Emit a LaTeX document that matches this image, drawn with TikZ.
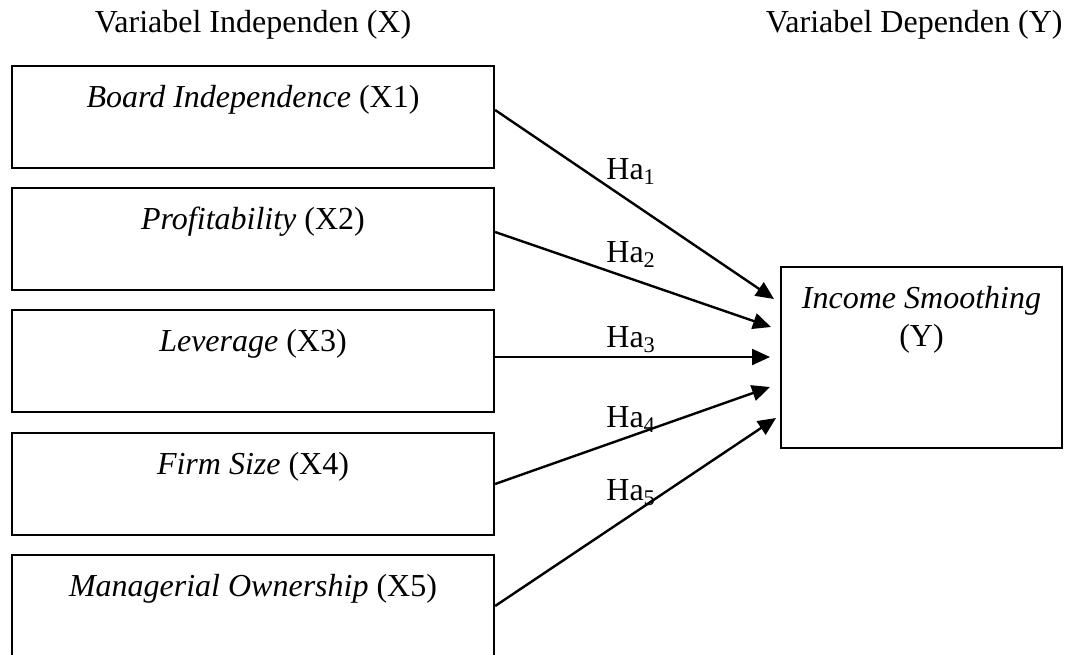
\documentclass[tikz,border=0pt]{standalone}
\usepackage{fontspec}
\setmainfont{Liberation Serif}
\usepackage{tikz}
\usetikzlibrary{arrows.meta}

\begin{document}
\begin{tikzpicture}[
  x=0.5pt, y=-0.5pt,
  every node/.style={font=\fontsize{16pt}{19pt}\selectfont},
  varbox/.style={rectangle, draw, line width=1.1pt, minimum width=241pt,
                 inner ysep=0pt, text height=20.5pt, text depth=30.5pt},
  depbox/.style={rectangle, draw, line width=1.1pt, minimum width=140.5pt,
                 minimum height=90.5pt, inner sep=0pt},
  hlabel/.style={anchor=base west, inner sep=0pt},
  arr/.style={-{Triangle[length=9pt, width=8pt]}, line width=1.2pt}
]
  \clip (0,0) rectangle (1072,654);

  % Headings
  \node[anchor=base, inner sep=0pt] (indep) at (253,32) {Variabel Independen (X)};
  \node[anchor=base east, inner sep=0pt] (dep) at (1063,32) {Variabel Dependen (Y)};

  % Independent variables
  \node[varbox] (x1) at (253,117) {\textit{Board Independence} (X1)};
  \node[varbox] (x2) at (253,239) {\textit{Profitability} (X2)};
  \node[varbox] (x3) at (253,361) {\textit{Leverage} (X3)};
  \node[varbox] (x4) at (253,484) {\textit{Firm Size} (X4)};
  \node[varbox] (x5) at (253,606) {\textit{Managerial Ownership} (X5)};

  % Dependent variable
  \node[depbox] (y) at (921.5,357.5) {};
  \node[anchor=north, align=center, inner sep=0pt] (ytext) at ([yshift=-10pt]y.north)
    {\textit{Income Smoothing}\\(Y)};

  % Arrow targets
  \coordinate (t1) at (774,299);
  \coordinate (t2) at (771,327);
  \coordinate (t3) at (770,357);
  \coordinate (t4) at (770,387);
  \coordinate (t5) at (776,418);

  % Arrows
  \draw[arr] ([yshift=3.5pt]x1.east) -- (t1);
  \draw[arr] ([yshift=3.5pt]x2.east) -- (t2);
  \draw[arr] ([yshift=2pt]x3.east) -- (t3);
  \draw[arr] (x4.east) -- (t4);
  \draw[arr] (x5.east) -- (t5);

  % Hypotheses
  \node[hlabel] (ha1) at (606,179) {Ha\textsubscript{1}};
  \node[hlabel] (ha2) at (606,262) {Ha\textsubscript{2}};
  \node[hlabel] (ha3) at (606,347) {Ha\textsubscript{3}};
  \node[hlabel] (ha4) at (606,427) {Ha\textsubscript{4}};
  \node[hlabel] (ha5) at (606,500) {Ha\textsubscript{5}};
\end{tikzpicture}
\end{document}
